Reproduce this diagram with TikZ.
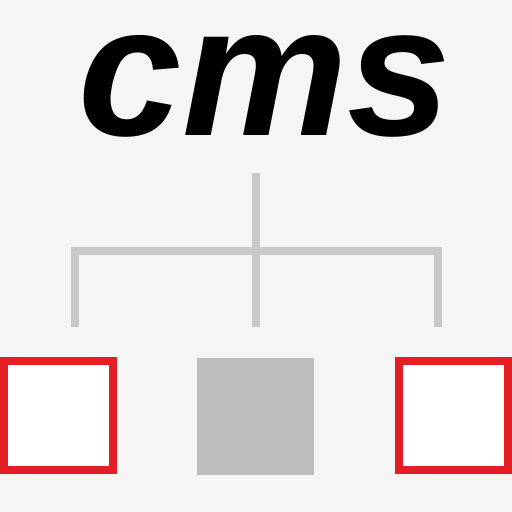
\documentclass[tikz,border=0pt]{standalone}
\usepackage{fontspec}
\setmainfont{Liberation Sans}
\definecolor{bg}{HTML}{F5F5F5}
\definecolor{treeline}{HTML}{C8C8C8}
\definecolor{boxred}{HTML}{E31E24}
\definecolor{boxgray}{HTML}{BDBDBD}
\tikzset{
  treeedge/.style={draw=treeline, line width=8pt},
  redbox/.style={draw=boxred, fill=white, line width=8pt, minimum size=109pt, inner sep=0pt},
  graybox/.style={fill=boxgray, minimum size=117pt, inner sep=0pt},
  title/.style={font=\fontsize{186}{200}\selectfont\bfseries\itshape, inner sep=0pt}
}
\begin{document}
\begin{tikzpicture}[x=1pt,y=-1pt]
\fill[bg] (0,0) rectangle (512,512);
\useasboundingbox (0,0) rectangle (512,512);
\node[title, anchor=base] (t) at (265,135) {cms};
\coordinate (top) at (256,173);
\coordinate (mid) at (256,250.5);
\coordinate (hl) at (74.5,250.5);
\coordinate (hr) at (437.5,250.5);
\coordinate (bl) at (74.5,327);
\coordinate (bm) at (256,327);
\coordinate (br) at (437.5,327);
\draw[treeedge] (top) -- (mid);
\draw[treeedge] (bl) -- (hl) -- (hr) -- (br);
\draw[treeedge] (mid) -- (bm);
\node[redbox] (lb) at (58,415.5) {};
\node[graybox] (mb) at (255.5,416) {};
\node[redbox] (rb) at (453.5,415.5) {};
\end{tikzpicture}
\end{document}
